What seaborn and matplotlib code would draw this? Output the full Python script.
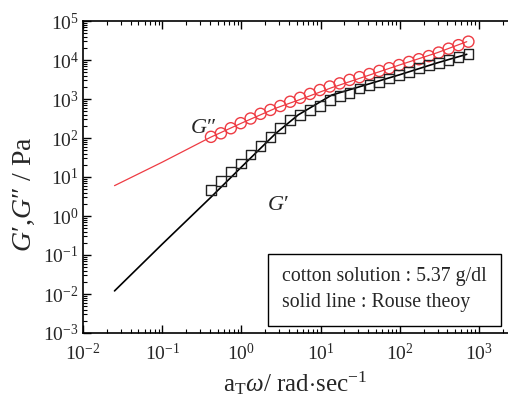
import numpy as np
import pandas as pd
import matplotlib
matplotlib.use("Agg")
import matplotlib.pyplot as plt
from matplotlib.ticker import LogLocator, NullFormatter
import seaborn as sns

# ---- data ----
log_w = [-0.384 + 0.125 * i for i in range(27)]
omega = [round(10 ** v, 4) for v in log_w]
log_Gpp = [2.03, 2.12, 2.25, 2.38, 2.50, 2.62, 2.72, 2.82, 2.93, 3.03, 3.13, 3.23,
           3.32, 3.40, 3.49, 3.56, 3.64, 3.72, 3.79, 3.87, 3.95, 4.02, 4.10, 4.19,
           4.29, 4.38, 4.47]
log_Gp = [0.667, 0.897, 1.14, 1.35, 1.58, 1.80, 2.03, 2.25, 2.46, 2.59, 2.72, 2.82,
          2.97, 3.08, 3.16, 3.27, 3.36, 3.44, 3.53, 3.62, 3.70, 3.79, 3.87, 3.93,
          4.00, 4.07, 4.15]
G_loss = [10 ** v for v in log_Gpp]
G_stor = [10 ** v for v in log_Gp]

# Rouse theory curves
rouse_w = [0.025, 0.1, 0.41, 1.0, 2.7, 5.2, 13.8, 100.0, 300.0, 700.0]
rouse_Gp = [0.012, 0.19, 3.0, 18.0, 130.0, 390.0, 1260.0, 4200.0, 8500.0, 14000.0]
rouse_Gpp = [6.0, 24.0, 105.0, 240.0, 580.0, 930.0, 1950.0, 7500.0, 15500.0, 29500.0]

sns.set_style("ticks")
plt.rcParams["font.family"] = ["Liberation Serif", "DejaVu Serif"]
plt.rcParams["mathtext.fontset"] = "custom"
plt.rcParams["mathtext.rm"] = "Liberation Serif"
plt.rcParams["mathtext.it"] = "Liberation Serif:italic"
plt.rcParams["mathtext.bf"] = "Liberation Serif:bold"

fig = plt.figure(figsize=(5.08, 4.07), dpi=100)
ax = fig.add_axes([83 / 508, 1 - 333 / 407, 1 - 83 / 508, (333 - 21) / 407])

red = "#ee3b43"
df_r = pd.DataFrame({"w": rouse_w, "Gp": rouse_Gp, "Gpp": rouse_Gpp})
sns.lineplot(data=df_r, x="w", y="Gpp", ax=ax, color=red, lw=0.9,
             estimator=None, sort=False)
sns.lineplot(data=df_r, x="w", y="Gp", ax=ax, color="black", lw=1.2,
             estimator=None, sort=False)

df = pd.DataFrame({"w": omega, "Gp": G_stor, "Gpp": G_loss})
sns.scatterplot(data=df, x="w", y="Gpp", ax=ax, marker="o", s=64,
                facecolor="none", edgecolor=red, linewidth=1.0, zorder=3)
sns.scatterplot(data=df, x="w", y="Gp", ax=ax, marker="s", s=48,
                facecolor="none", edgecolor="#222222", linewidth=1.0, zorder=3)

ax.set_xscale("log")
ax.set_yscale("log")
ax.set_xlim(1e-2, 10 ** 3.366)
ax.set_ylim(1e-3, 1e5)

ax.xaxis.set_major_locator(LogLocator(base=10, numticks=20))
ax.yaxis.set_major_locator(LogLocator(base=10, numticks=20))
ax.xaxis.set_minor_locator(LogLocator(base=10, subs=np.arange(2, 10), numticks=40))
ax.yaxis.set_minor_locator(LogLocator(base=10, subs=np.arange(2, 10), numticks=40))
ax.xaxis.set_minor_formatter(NullFormatter())
ax.yaxis.set_minor_formatter(NullFormatter())

ax.tick_params(which="major", direction="in", length=6, width=1.0,
               top=True, right=False, labelsize=14, color="black")
ax.tick_params(axis="x", which="major", pad=7)
ax.tick_params(axis="y", which="major", pad=3)
ax.tick_params(which="minor", direction="in", length=3, width=0.8,
               top=True, right=False, color="black")
for s in ["left", "bottom", "top"]:
    ax.spines[s].set_visible(True)
    ax.spines[s].set_color("black")
    ax.spines[s].set_linewidth(1.2)
ax.spines["right"].set_visible(False)

ax.set_xlabel(r"a$_\mathrm{T}\omega$/ rad$\cdot$sec$^{-1}$", fontsize=18, labelpad=4)
ax.set_ylabel("$G′$,$G″$ / Pa", fontsize=20)
ax.yaxis.set_label_coords(-0.108, 0.445)

ax.text(0.33, 180, "$G″$", fontsize=16, ha="center", va="center")
ax.text(2.9, 1.9, "$G′$", fontsize=16, ha="center", va="center")

ax.text(0.468, 0.139,
        "cotton solution : 5.37 g/dl\nsolid line : Rouse theoy",
        transform=ax.transAxes, fontsize=14.3, ha="left", va="center",
        linespacing=1.45,
        bbox=dict(boxstyle="square,pad=0.7", facecolor="white",
                  edgecolor="black", linewidth=1.0))

fig.savefig("out.png", dpi=100)
